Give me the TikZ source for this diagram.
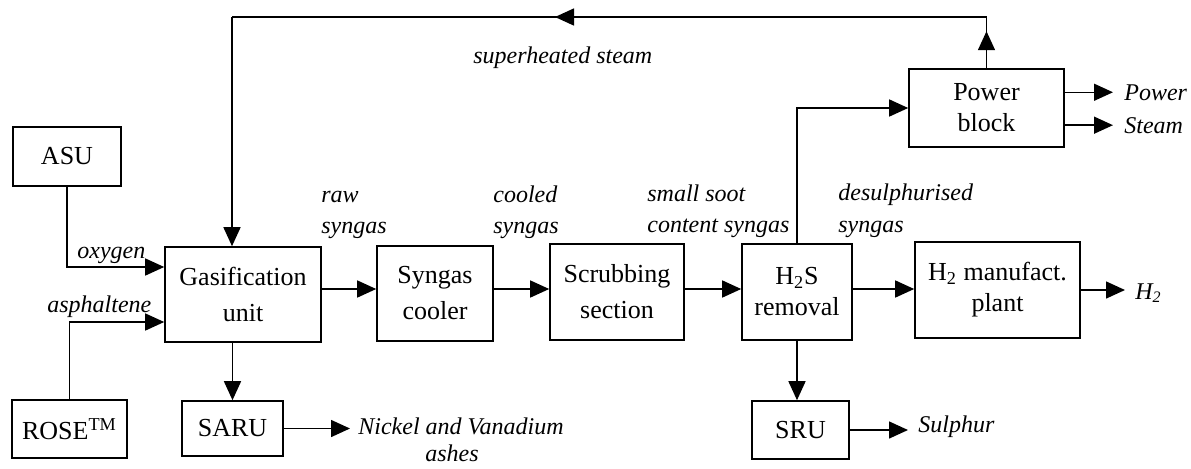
\documentclass[tikz,border=0pt]{standalone}
\usepackage{fontspec}
\setmainfont{Liberation Serif}
\usetikzlibrary{arrows.meta}

\begin{document}
\begin{tikzpicture}[x=0.5pt,y=-0.5pt,
    unit/.style={draw,line width=0.8pt,align=center,inner sep=0pt,font=\fontsize{13}{18}\selectfont},
    tight/.style={font=\fontsize{13}{15.5}\selectfont},
    flow/.style={line width=0.75pt,-{Triangle[length=9.5pt,width=8.5pt]}},
    pipe/.style={line width=0.75pt},
    lbl/.style={anchor=base west,inner sep=0pt,font=\fontsize{12}{14}\selectfont\itshape}]
    \useasboundingbox (0,0) rectangle (1191,468);
    % Draw the process units
    \node[unit,minimum width=54pt,minimum height=29.5pt] (asu) at (67,156.5) {ASU};
    \node[unit,minimum width=57.5pt,minimum height=29pt] (rose) at (69.5,429) {ROSE\textsuperscript{TM}};
    \node[unit,minimum width=78pt,minimum height=47.5pt] (gas) at (243,294.5) {Gasification\\unit};
    \node[unit,minimum width=50.5pt,minimum height=27.5pt] (saru) at (232.5,428.5) {SARU};
    \node[unit,minimum width=58pt,minimum height=47.5pt] (cooler) at (435,293.5) {Syngas\\cooler};
    \node[unit,minimum width=67pt,minimum height=48pt] (scrub) at (617,292) {Scrubbing\\section};
    \node[unit,tight,minimum width=55pt,minimum height=48pt] (hs) at (797,292) {H\textsubscript{2}S\\removal};
    \node[unit,tight,minimum width=82.5pt,minimum height=48pt] (htwo) at (997.5,290) {H\textsubscript{2} manufact.\\plant};
    \node[unit,minimum width=48.5pt,minimum height=29pt] (sru) at (800.5,430) {SRU};
    \node[unit,tight,minimum width=77.5pt,minimum height=39pt] (power) at (986.5,108) {Power\\block};
    % Stream labels
    \foreach \n/\x/\y/\t in {raw/321/202/raw, rawb/321/233/syngas,
        cool/493/202/cooled, coolb/493/233/syngas,
        soot/647/201/small soot, sootb/647/232/content syngas,
        desul/838/200/desulphurised, desulb/838/232/syngas,
        steam/473/63/superheated steam,
        oxy/77/258/oxygen, asph/47/312/asphaltene,
        ashes/425/461/ashes}
        \node[lbl] (\n) at (\x,\y) {\t};
    % Products
    \node[lbl] (nickel) at (358,434) {Nickel and Vanadium};
    \node[lbl] (pw) at (1124,100) {Power};
    \node[lbl] (st) at (1124,133) {Steam};
    \node[lbl] (sul) at (918,432) {Sulphur};
    \node[lbl] (htwoout) at (1135,299) {\textit{H}\textsubscript{2}};
    \coordinate (main) at (0,289);
    \coordinate (oxyin) at (67,267);
    \coordinate (aspin) at (69,322);
    \coordinate (topL) at (232,17);
    % Feeds into the gasifier
    \draw[flow] (asu.south) |- (gas.west |- oxyin);
    \draw[flow] (rose.north) |- (gas.west |- aspin);
    % Main syngas line
    \draw[flow] (gas.east |- main) -- (cooler.west |- main);
    \draw[flow] (cooler.east |- main) -- (scrub.west |- main);
    \draw[flow] (scrub.east |- main) -- (hs.west |- main);
    \draw[flow] (hs.east |- main) -- (htwo.west |- main);
    \draw[flow,shorten >=5pt] (htwo.east) -- (htwo.east -| htwoout.west);
    % Side streams
    \draw[flow] (saru.north |- gas.south) -- (saru.north);
    \draw[flow,shorten >=4pt] (saru.east) -- (saru.east -| nickel.west);
    \draw[flow] (hs.south) -- (hs.south |- sru.north);
    \draw[flow,shorten >=5pt] (sru.east) -- (sru.east -| sul.west);
    \draw[flow] (hs.north) |- (power.west);
    \draw[flow,shorten >=5.5pt] (power.east |- pw.west) -- (pw.west);
    \draw[flow,shorten >=5.5pt] (power.east |- st.west) -- (st.west);
    % Steam recycle over the top
    \draw[pipe] (power.north) -- (power.north |- topL) -- (topL);
    \draw[flow] (power.north) -- ++(0,-37);
    \draw[flow] (power.north |- topL) -- ++(-431.5,0);
    \draw[flow] (topL) -- (topL |- gas.north);
\end{tikzpicture}
\end{document}
